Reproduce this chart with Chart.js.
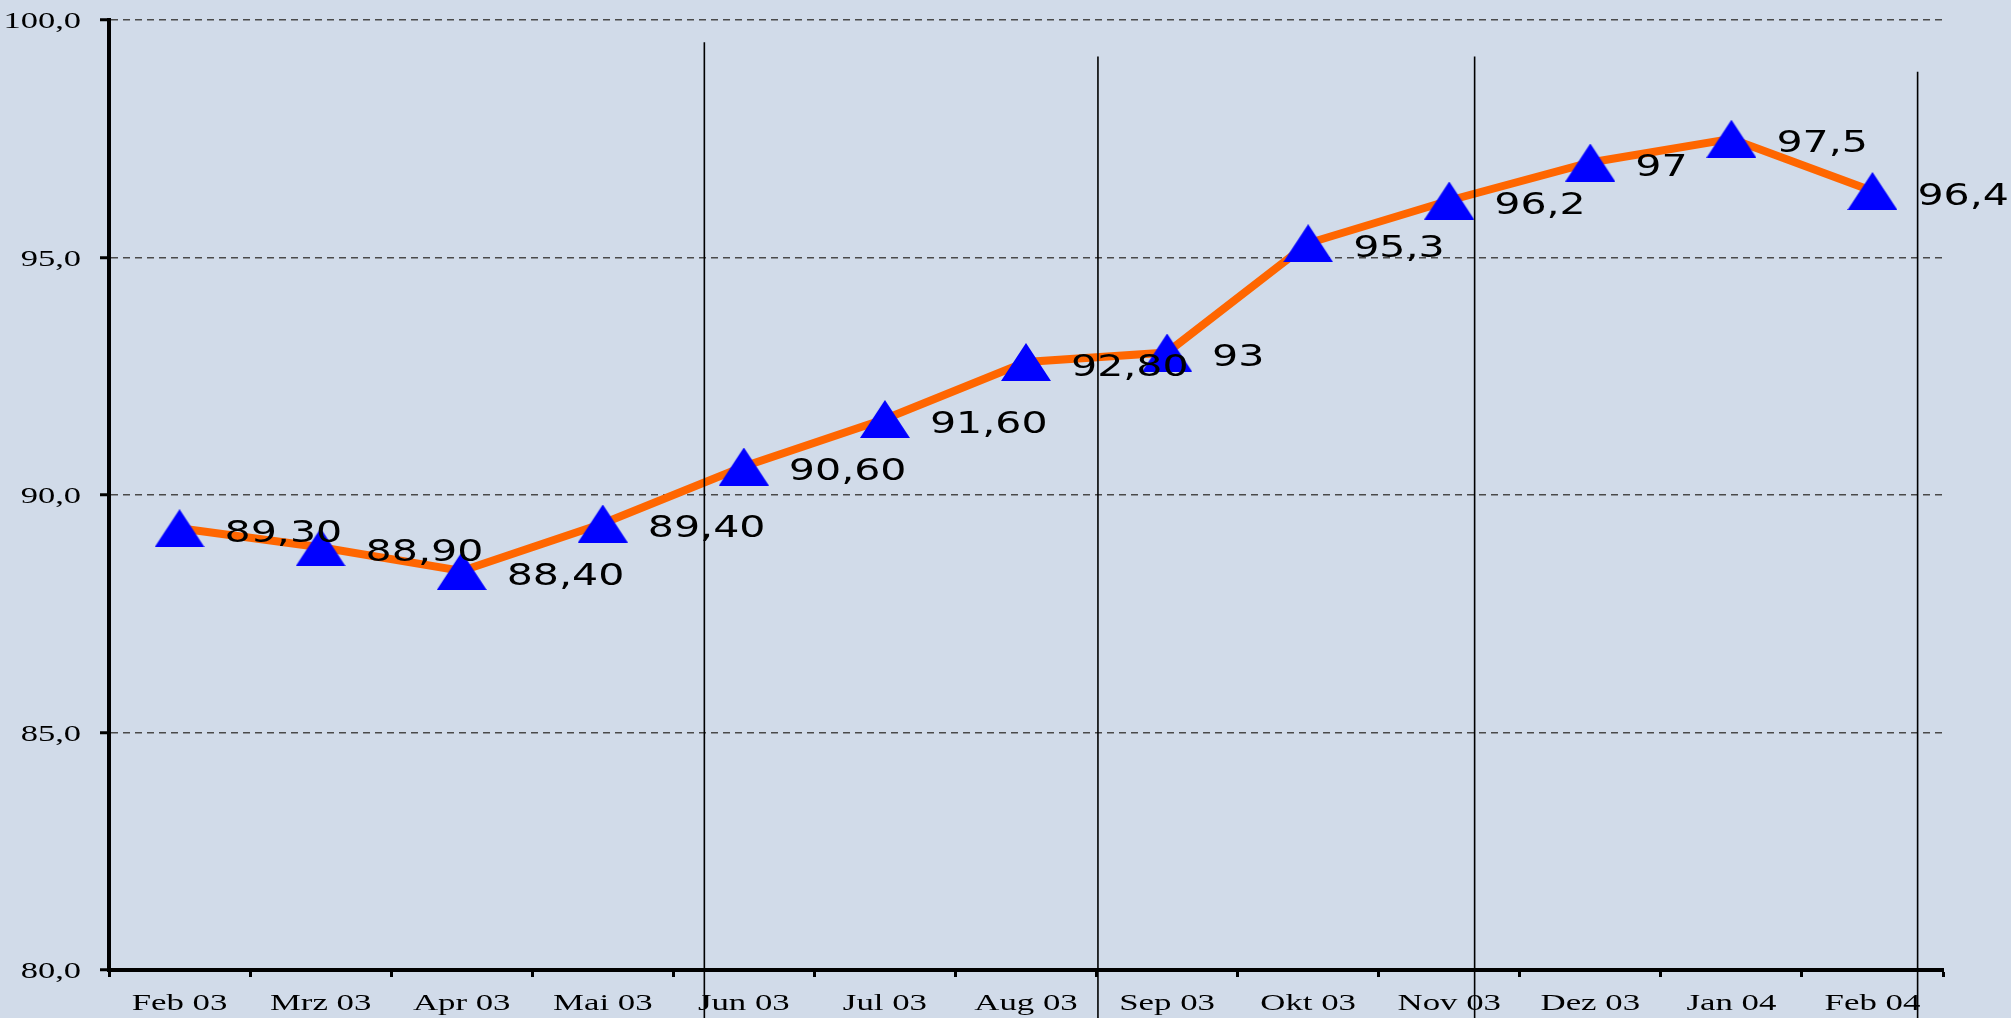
<!DOCTYPE html>
<html>
<head>
<meta charset="utf-8">
<script src="https://cdn.jsdelivr.net/npm/chart.js@4.4.1/dist/chart.umd.min.js"></script>
<style>
  html, body { margin: 0; padding: 0; background: #D1DBE9; }
  canvas { display: block; }
</style>
</head>
<body>
<canvas id="index" width="2011" height="1018"></canvas>
<script>
// chart data
const months = ["Feb 03", "Mrz 03", "Apr 03", "Mai 03", "Jun 03", "Jul 03", "Aug 03",
                "Sep 03", "Okt 03", "Nov 03", "Dez 03", "Jan 04", "Feb 04"];
const indexValues = [89.3, 88.9, 88.4, 89.4, 90.6, 91.6, 92.8, 93, 95.3, 96.2, 97, 97.5, 96.4];
const valueLabels = ["89,30", "88,90", "88,40", "89,40", "90,60", "91,60", "92,80",
                     "93", "95,3", "96,2", "97", "97,5", "96,4"];
const yTickLabels = ["80,0", "85,0", "90,0", "95,0", "100,0"];
// the thin vertical separators: position on the category axis and value where they start
const separatorAt = [3.72, 6.51, 9.18, 12.32];
const separatorTop = [99.53, 99.23, 99.23, 98.91];

// text in the original is stretched sideways, so draw it with a horizontal scale
function stretchedText(ctx, text, x, y, sx, align) {
  ctx.save();
  ctx.translate(x, y);
  ctx.scale(sx, 1);
  ctx.textAlign = align;
  ctx.textBaseline = "alphabetic";
  ctx.fillText(text, 0, 0);
  ctx.restore();
}

// blue triangle marker, a bit wider than equilateral
function triangleMarker(w, h, color) {
  const c = document.createElement("canvas");
  c.width = w;
  c.height = h;
  const g = c.getContext("2d");
  g.fillStyle = color;
  g.beginPath();
  g.moveTo(w / 2, 0);
  g.lineTo(w, h);
  g.lineTo(0, h);
  g.closePath();
  g.fill();
  return c;
}

const backgroundPlugin = {
  id: "background",
  beforeDraw(chart) {
    const ctx = chart.ctx;
    ctx.save();
    ctx.fillStyle = "#D1DBE9";
    ctx.fillRect(0, 0, chart.width, chart.height);
    ctx.restore();
  }
};

const tickTextPlugin = {
  id: "tickText",
  afterDraw(chart) {
    const ctx = chart.ctx;
    const xs = chart.scales.x;
    const ys = chart.scales.y;
    ctx.save();
    ctx.fillStyle = "#000";
    ctx.font = "24px 'Liberation Serif'";
    months.forEach((m, i) => {
      stretchedText(ctx, m, xs.getPixelForValue(i), chart.chartArea.bottom + 40, 1.45, "center");
    });
    ctx.font = "23px 'Liberation Serif'";
    ys.ticks.forEach((t, i) => {
      stretchedText(ctx, yTickLabels[i], chart.chartArea.left - 28, ys.getPixelForValue(t.value) + 8, 1.5, "right");
    });
    ctx.restore();
  }
};

const separatorPlugin = {
  id: "separators",
  afterDatasetsDraw(chart) {
    const ctx = chart.ctx;
    const xs = chart.scales.x;
    const ys = chart.scales.y;
    ctx.save();
    ctx.strokeStyle = "#000";
    ctx.lineWidth = 1.6;
    separatorAt.forEach((pos, i) => {
      const x = xs.getPixelForValue(pos);
      ctx.beginPath();
      ctx.moveTo(x, ys.getPixelForValue(separatorTop[i]));
      ctx.lineTo(x, chart.height);
      ctx.stroke();
    });
    ctx.restore();
  }
};

const valueLabelPlugin = {
  id: "valueLabels",
  afterDatasetsDraw(chart) {
    const ctx = chart.ctx;
    const meta = chart.getDatasetMeta(0);
    ctx.save();
    ctx.fillStyle = "#000";
    ctx.font = "30px 'DejaVu Sans'";
    meta.data.forEach((pt, i) => {
      stretchedText(ctx, valueLabels[i], pt.x + 45, pt.y + 13.5, 1.37, "left");
    });
    ctx.restore();
  }
};

var ctx = document.getElementById("index");
var theChart = new Chart(ctx, {
  type: "line",
  data: {
    labels: months,
    datasets: [{
      label: "Index",
      data: indexValues,
      borderColor: "#FF6600",
      borderWidth: 8,
      tension: 0,
      pointStyle: triangleMarker(50, 38, "#0000FF"),
      pointRadius: 25,
      pointHoverRadius: 25
    }]
  },
  plugins: [backgroundPlugin, separatorPlugin, valueLabelPlugin, tickTextPlugin],
  options: {
    responsive: false,
    animation: false,
    events: [],
    layout: {
      autoPadding: false,
      padding: { left: 0, top: 20, right: 68, bottom: 0 }
    },
    plugins: {
      legend: { display: false },
      tooltip: { enabled: false },
      title: { display: false }
    },
    scales: {
      x: {
        type: "category",
        offset: true,
        grid: {
          display: true,
          drawOnChartArea: false,
          drawTicks: true,
          tickLength: 7,
          tickWidth: 3,
          tickColor: "#000",
          offset: true
        },
        border: { display: true, color: "#000", width: 4 },
        ticks: { color: "rgba(0,0,0,0)", font: { size: 1 }, maxRotation: 0, autoSkip: false },
        afterFit(scale) { scale.height = 48; }
      },
      y: {
        min: 80,
        max: 100,
        ticks: { stepSize: 5, color: "rgba(0,0,0,0)", font: { size: 1 } },
        grid: {
          color: "#4a4a4a",
          lineWidth: 1.5,
          drawTicks: true,
          tickLength: 9,
          tickWidth: 3,
          tickColor: "#000"
        },
        border: { display: true, color: "#000", width: 4, dash: [7, 5] },
        afterFit(scale) { scale.width = 109; }
      }
    }
  }
});
</script>
</body>
</html>
